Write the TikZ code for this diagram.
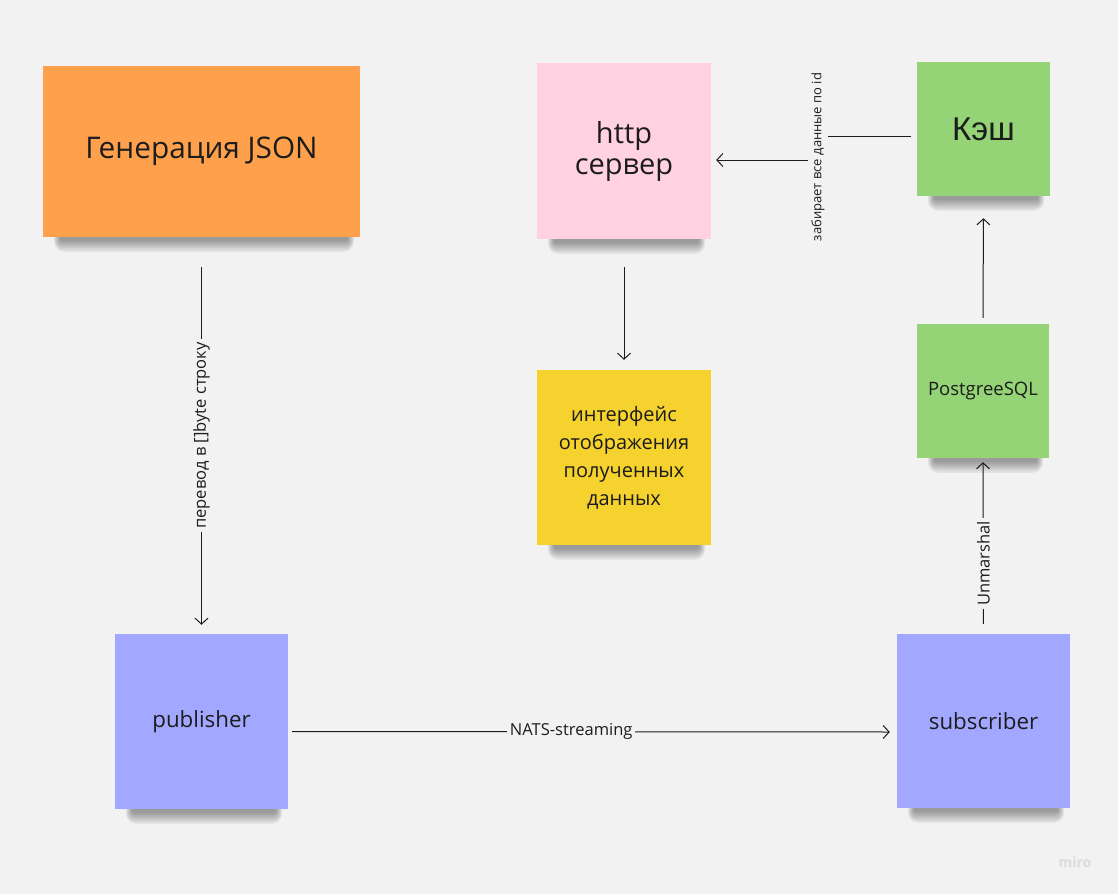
\documentclass[tikz,border=0pt]{standalone}
\usepackage{fontspec}
\setmainfont{Open Sans}
\newfontfamily\keshfont{Liberation Sans}
\usetikzlibrary{arrows.meta,backgrounds}

\definecolor{bg}{HTML}{F2F2F2}
\definecolor{ink}{HTML}{1C1C1C}
\definecolor{orangenote}{HTML}{FFA14C}
\definecolor{pinknote}{HTML}{FFD1E1}
\definecolor{greennote}{HTML}{94D477}
\definecolor{yellownote}{HTML}{F5D22E}
\definecolor{bluenote}{HTML}{A2A8FF}

\tikzset{
	note/.style={inner sep=0pt, align=center, text=ink},
	lbl/.style={fill=bg, inner sep=3pt, text=ink, font=\fontsize{16.5}{19}\selectfont},
	arr/.style={-{Straight Barb[length=6pt,width=13pt]}, line width=1pt, ink}
}

\begin{document}
\begin{tikzpicture}[x=1pt,y=-1pt]
	\begin{pgfonlayer}{background}
		\fill[bg] (0,0) rectangle (1118,894);
	\end{pgfonlayer}
	\useasboundingbox (0,0) rectangle (1118,894);

	% stickers
	\node[note, fill=orangenote, minimum width=317pt, minimum height=171pt,
		font=\fontsize{29.8}{34}\selectfont] (gen) at (201.5,151.5) {Генерация JSON};
	\node[note, fill=pinknote, minimum width=174pt, minimum height=176pt,
		font=\fontsize{29}{31}\selectfont] (http) at (624,151) {http\\сервер};
	\node[note, fill=greennote, minimum width=133pt, minimum height=134pt,
		font=\keshfont\fontsize{33}{36}\selectfont] (kesh) at (983.5,129) {Кэш};
	\node[note, fill=yellownote, minimum width=174pt, minimum height=175pt,
		font=\fontsize{20}{28}\selectfont] (ui) at (624,457.5)
		{интерфейс\\отображения\\полученных\\данных};
	\node[note, fill=greennote, minimum width=132pt, minimum height=134pt,
		font=\fontsize{18.5}{22}\selectfont] (pg) at (983,391) {PostgreeSQL};
	\node[note, fill=bluenote, minimum width=173pt, minimum height=175pt,
		font=\fontsize{22.3}{26}\selectfont] (pub) at (201.5,721.5) {publisher};
	\node[note, fill=bluenote, minimum width=173pt, minimum height=174pt,
		font=\fontsize{22.3}{26}\selectfont] (sub) at (983.5,721) {subscriber};

	% soft shadows under the stickers
	\begin{pgfonlayer}{background}
		\foreach \n in {gen,http,kesh,ui,pg,pub,sub}
			\foreach \i in {1,...,7}
				\fill[black, opacity=0.06, rounded corners=1.5*\i pt]
					([xshift=(18-\i)*1pt, yshift=12pt]\n.south west) rectangle
					([xshift=(-13+\i)*1pt, yshift=(-2-1.8*\i)*1pt]\n.south east);
	\end{pgfonlayer}

	% connectors
	\draw[arr, shorten <=30pt, shorten >=9pt] (gen.south) -- node[lbl, rotate=90, pos=0.5]
		{перевод в []byte строку} (pub.north);
	\draw[arr, shorten <=4pt, shorten >=7pt] ([yshift=-10pt]pub.east) -- node[lbl, pos=0.465]
		{NATS-streaming} ([yshift=-11pt]sub.west);
	\draw[arr, shorten <=10pt, shorten >=4pt] (sub.north) -- node[lbl, rotate=90, pos=0.4]
		{Unmarshal} (pg.south);
	\draw[arr, shorten <=6pt, shorten >=22pt] (pg.north) -- (kesh.south);
	\draw[arr, shorten <=28pt, shorten >=10pt] (http.south) -- (ui.north);
	\coordinate (bend) at (818,157);
	\draw[arr, shorten <=6pt, shorten >=5pt] ([yshift=-7pt]kesh.west) -| (bend)
		|- ([yshift=-9pt]http.east);
	\node[lbl, rotate=90, font=\fontsize{13}{15}\selectfont] (fetch) at (bend)
		{забирает все данные по id};

	% watermark
	\node[text=black!14, font=\bfseries\fontsize{14}{16}\selectfont] (miro) at (1075,862) {miro};
\end{tikzpicture}
\end{document}
